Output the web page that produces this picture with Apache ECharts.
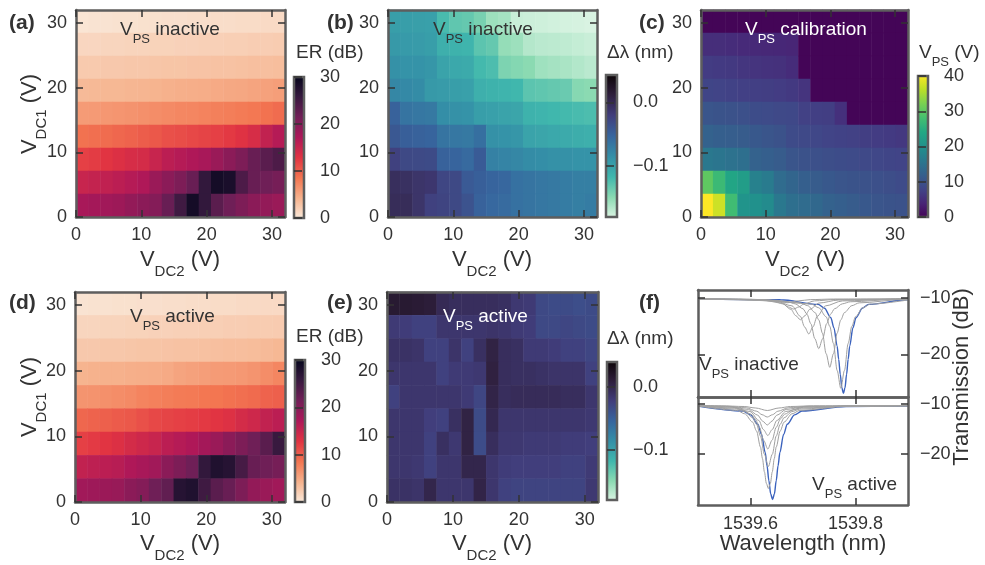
<!DOCTYPE html>
<html>
<head>
<meta charset="utf-8">
<script src="https://cdn.jsdelivr.net/npm/echarts@6/dist/echarts.min.js"></script>
<style>
  html, body { margin: 0; padding: 0; background: #fff; }
  #main { width: 985px; height: 565px; }
</style>
</head>
<body>
<div id="main"></div>
<script>
var myChart = echarts.init(document.getElementById("main"));

// cell centres (V)
var VDC2_CELLS = ['0.9','2.8','4.7','6.6','8.5','10.4','12.2','14.1','16.0','17.9','19.8','21.6','23.5','25.4','27.3','29.2','31.1'];
var VDC1_CELLS = ['1.8','5.3','8.9','12.4','16.0','19.6','23.1','26.7','30.2'];
var HEAT_TICKS = [0, 10, 20, 30];

// (a) ER, VPS inactive  (rows top -> bottom)
var ER_INACTIVE = [
  [0.5,0.6,0.6,0.7,0.7,0.8,0.8,0.9,0.9,1.0,1.0,1.1,1.1,1.2,1.2,1.3,1.3],
  [1.6,1.6,1.7,1.7,1.8,1.8,1.9,1.9,2.0,2.0,2.1,2.1,2.2,2.2,2.3,2.3,2.4],
  [2.6,2.6,2.7,2.7,2.8,2.8,2.9,3.0,3.0,3.1,3.1,3.2,3.2,3.3,3.4,3.4,3.5],
  [3.8,3.9,4.0,4.0,4.1,4.2,4.3,4.5,4.6,4.7,4.8,5.0,5.1,5.2,5.4,5.6,5.8],
  [6.0,6.1,6.3,6.4,6.6,6.8,7.0,7.2,7.4,7.5,7.7,7.9,8.0,8.2,8.4,8.8,9.2],
  [8.8,9.0,9.2,9.5,9.8,10.2,10.5,11.0,11.2,11.5,11.8,12.0,12.5,13.0,13.8,15.5,16.5],
  [12.0,12.3,12.8,13.3,13.8,14.0,15.0,16.0,16.5,17.0,17.5,18.5,19.5,20.5,22.0,23.0,24.0],
  [15.0,15.3,15.6,16.0,16.5,17.0,18.5,19.5,20.5,22.0,26.0,28.5,28.0,24.0,22.0,21.5,21.0],
  [17.5,17.8,18.0,18.3,19.0,19.5,20.0,22.0,25.0,28.5,26.0,23.0,21.5,20.5,19.5,19.0,18.5]
];
// (d) ER, VPS active
var ER_ACTIVE = [
  [0.6,0.7,0.7,0.8,0.8,0.9,0.9,1.0,1.0,1.1,1.1,1.2,1.2,1.3,1.3,1.4,1.4],
  [1.7,1.7,1.8,1.8,1.9,1.9,2.0,2.0,2.1,2.1,2.2,2.2,2.3,2.3,2.4,2.4,2.5],
  [2.7,2.7,2.8,2.8,2.9,3.0,3.0,3.1,3.2,3.2,3.3,3.4,3.5,3.5,3.6,3.8,4.0],
  [4.3,4.4,4.5,4.5,4.6,4.7,4.8,5.0,5.4,5.6,5.8,6.0,6.1,6.2,6.5,7.0,7.5],
  [6.5,6.6,6.8,7.0,7.2,7.6,7.8,8.0,8.2,8.3,8.5,8.6,8.8,9.0,9.3,9.8,10.0],
  [9.5,9.8,10.0,10.3,10.5,11.0,11.5,11.8,12.0,12.2,12.5,12.8,13.2,14.0,14.5,15.5,16.0],
  [12.0,12.4,12.8,13.3,14.0,14.5,15.0,16.0,16.5,17.0,17.8,18.5,19.5,20.5,21.5,23.0,25.5],
  [15.5,15.8,16.0,16.3,17.0,17.5,18.0,19.5,20.5,21.5,26.0,27.5,27.0,24.5,22.0,21.5,21.0],
  [18.0,18.2,18.4,18.6,19.5,20.0,21.5,22.5,27.0,27.5,25.0,23.0,22.0,20.5,19.0,18.5,18.0]
];
// (b) delta lambda (nm), VPS inactive
var DL_INACTIVE = [
  [-0.096,-0.096,-0.097,-0.098,-0.120,-0.130,-0.132,-0.140,-0.155,-0.158,-0.172,-0.173,-0.174,-0.175,-0.176,-0.177,-0.178],
  [-0.092,-0.093,-0.094,-0.096,-0.110,-0.112,-0.114,-0.128,-0.132,-0.152,-0.155,-0.164,-0.166,-0.167,-0.168,-0.170,-0.172],
  [-0.086,-0.088,-0.088,-0.090,-0.100,-0.104,-0.106,-0.118,-0.122,-0.142,-0.145,-0.148,-0.156,-0.158,-0.160,-0.163,-0.166],
  [-0.078,-0.080,-0.082,-0.092,-0.094,-0.096,-0.098,-0.110,-0.112,-0.114,-0.116,-0.128,-0.130,-0.132,-0.134,-0.146,-0.148],
  [-0.050,-0.064,-0.066,-0.068,-0.084,-0.086,-0.088,-0.096,-0.098,-0.100,-0.102,-0.112,-0.114,-0.116,-0.118,-0.120,-0.122],
  [-0.042,-0.048,-0.050,-0.052,-0.064,-0.066,-0.068,-0.060,-0.086,-0.088,-0.090,-0.100,-0.102,-0.104,-0.106,-0.108,-0.110],
  [-0.024,-0.030,-0.031,-0.032,-0.050,-0.052,-0.056,-0.045,-0.074,-0.076,-0.078,-0.082,-0.084,-0.086,-0.086,-0.088,-0.088],
  [-0.006,-0.008,-0.012,-0.014,-0.028,-0.030,-0.044,-0.048,-0.052,-0.054,-0.062,-0.064,-0.066,-0.068,-0.070,-0.072,-0.072],
  [-0.004,-0.004,-0.012,-0.024,-0.026,-0.030,-0.038,-0.050,-0.055,-0.057,-0.062,-0.064,-0.066,-0.068,-0.070,-0.072,-0.070]
];
// (e) delta lambda (nm), VPS active
var DL_ACTIVE = [
  [0.014,0.014,0.012,0.010,-0.004,-0.008,-0.008,-0.008,-0.008,-0.010,-0.018,-0.020,-0.032,-0.034,-0.034,-0.036,-0.034],
  [-0.020,-0.022,-0.026,-0.026,-0.016,-0.016,-0.016,-0.016,-0.014,-0.016,-0.020,-0.022,-0.032,-0.032,-0.030,-0.032,-0.034],
  [-0.012,-0.012,-0.014,-0.026,-0.026,-0.014,-0.026,-0.010,0.004,-0.008,-0.010,-0.020,-0.020,-0.022,-0.026,-0.026,-0.030],
  [-0.016,-0.016,-0.016,-0.016,-0.026,-0.020,-0.020,-0.018,0.006,-0.008,-0.010,-0.010,-0.012,-0.014,-0.014,-0.014,-0.026],
  [-0.026,-0.016,-0.016,-0.016,-0.016,-0.016,-0.020,-0.030,0.002,-0.008,-0.006,-0.006,-0.006,-0.006,-0.008,-0.008,-0.016],
  [-0.016,-0.016,-0.016,-0.024,-0.026,-0.010,0.004,-0.034,-0.002,-0.016,-0.016,-0.016,-0.016,-0.016,-0.016,-0.016,-0.018],
  [-0.016,-0.016,-0.016,-0.026,-0.010,-0.018,0.004,-0.035,-0.008,-0.018,-0.018,-0.020,-0.020,-0.020,-0.022,-0.022,-0.024],
  [-0.016,-0.016,-0.018,-0.026,-0.016,-0.016,0.000,0.000,-0.016,-0.022,-0.024,-0.024,-0.024,-0.024,-0.026,-0.026,-0.020],
  [-0.012,-0.012,-0.014,0.000,-0.016,-0.016,-0.016,0.002,-0.016,-0.026,-0.028,-0.028,-0.028,-0.028,-0.028,-0.028,-0.018]
];
// (c) VPS calibration (V)
var VPS_CAL = [
  [0.4,0.4,0.4,0.4,0.4,0.4,0.4,0.4,0.4,0.4,0.4,0.4,0.4,0.4,0.4,0.4,0.4],
  [5.2,5.2,5.0,4.8,4.6,4.5,4.4,4.2,0.4,0.4,0.4,0.4,0.4,0.4,0.4,0.4,0.4],
  [7.0,6.8,6.6,6.2,6.0,5.8,5.6,5.0,0.4,0.4,0.4,0.4,0.4,0.4,0.4,0.4,0.4],
  [8.2,8.0,7.8,7.5,7.4,7.2,7.0,6.6,6.0,0.4,0.4,0.4,0.4,0.4,0.4,0.4,0.4],
  [10.5,10.2,10.0,9.8,9.2,9.0,8.8,8.6,7.6,7.4,7.2,5.5,0.4,0.4,0.4,0.4,0.4],
  [12.5,12.0,11.8,11.5,11.0,10.5,10.0,9.0,8.8,8.5,8.0,7.8,7.6,7.2,7.0,6.8,6.5],
  [16.0,15.5,15.0,14.5,12.5,12.0,11.5,10.5,10.0,9.8,9.5,9.2,9.0,8.8,8.5,8.2,8.0],
  [30.0,27.0,23.5,22.0,17.5,16.5,14.0,13.0,12.0,11.5,11.0,10.5,10.2,10.0,9.8,9.5,9.0],
  [40.0,37.0,27.5,20.5,20.0,19.0,16.0,14.5,14.0,13.5,12.5,12.0,11.5,11.0,10.5,10.2,10.0]
];

// (f) transmission spectra [wavelength nm, dB]
var INACT_1 = [[1539.5,-10.2],[1539.582,-10.24],[1539.626,-10.34],[1539.648,-10.55],[1539.670,-10.9],[1539.692,-10.55],[1539.714,-10.34],[1539.758,-10.24],[1539.9,-10.2]];
var INACT_2 = [[1539.5,-10.2],[1539.602,-10.31],[1539.642,-10.56],[1539.662,-11.1],[1539.672,-11.64],[1539.682,-12.0],[1539.692,-11.64],[1539.702,-11.1],[1539.722,-10.56],[1539.762,-10.31],[1539.9,-10.2]];
var INACT_3 = [[1539.5,-10.22],[1539.623,-10.42],[1539.659,-10.94],[1539.677,-12.05],[1539.686,-13.16],[1539.695,-13.9],[1539.704,-13.16],[1539.713,-12.05],[1539.731,-10.94],[1539.767,-10.42],[1539.9,-10.21]];
var INACT_4 = [[1539.5,-10.22],[1539.551,-10.26],[1539.647,-10.57],[1539.679,-11.44],[1539.695,-13.3],[1539.703,-15.16],[1539.711,-16.4],[1539.719,-15.16],[1539.727,-13.3],[1539.743,-11.44],[1539.775,-10.57],[1539.871,-10.26],[1539.9,-10.22]];
var INACT_5 = [[1539.5,-10.23],[1539.58,-10.29],[1539.67,-10.72],[1539.685,-11.08],[1539.7,-11.96],[1539.7075,-12.91],[1539.715,-14.6],[1539.7225,-17.24],[1539.73,-19.0],[1539.7375,-17.24],[1539.745,-14.6],[1539.7525,-12.91],[1539.76,-11.96],[1539.775,-11.08],[1539.79,-10.72],[1539.88,-10.29],[1539.9,-10.27]];
var INACT_6 = [[1539.5,-10.24],[1539.611,-10.32],[1539.695,-10.91],[1539.709,-11.41],[1539.723,-12.62],[1539.73,-13.92],[1539.737,-16.25],[1539.744,-19.88],[1539.751,-22.3],[1539.758,-19.88],[1539.765,-16.25],[1539.772,-13.92],[1539.779,-12.62],[1539.793,-11.41],[1539.807,-10.91],[1539.891,-10.32],[1539.9,-10.31]];
var INACT_7 = [[1539.5,-10.25],[1539.632,-10.36],[1539.716,-11.13],[1539.73,-11.78],[1539.744,-13.36],[1539.751,-15.06],[1539.758,-18.1],[1539.765,-22.84],[1539.772,-26.0],[1539.779,-22.84],[1539.786,-18.1],[1539.793,-15.06],[1539.8,-13.36],[1539.814,-11.78],[1539.828,-11.13],[1539.9,-10.4]];
var INACT_BLUE = [[1539.5,-10.25],[1539.657,-10.37],[1539.729,-11.18],[1539.741,-11.87],[1539.753,-13.54],[1539.759,-15.34],[1539.765,-18.55],[1539.768,-20.9],[1539.771,-23.56],[1539.774,-25.9],[1539.777,-26.9],[1539.78,-25.9],[1539.783,-23.56],[1539.786,-20.9],[1539.789,-18.55],[1539.795,-15.34],[1539.801,-13.54],[1539.813,-11.87],[1539.825,-11.18],[1539.897,-10.37],[1539.9,-10.36]];

var ACT_1 = [[1539.5,-10.3],[1539.544,-10.36],[1539.588,-10.5],[1539.61,-10.8],[1539.632,-11.3],[1539.654,-10.8],[1539.676,-10.5],[1539.72,-10.36],[1539.9,-10.3]];
var ACT_2 = [[1539.5,-10.3],[1539.552,-10.44],[1539.592,-10.76],[1539.612,-11.45],[1539.622,-12.14],[1539.632,-12.6],[1539.642,-12.14],[1539.652,-11.45],[1539.672,-10.76],[1539.712,-10.44],[1539.9,-10.3]];
var ACT_3 = [[1539.5,-10.31],[1539.56,-10.53],[1539.596,-11.08],[1539.614,-12.25],[1539.623,-13.42],[1539.632,-14.2],[1539.641,-13.42],[1539.65,-12.25],[1539.668,-11.08],[1539.704,-10.53],[1539.9,-10.32]];
var ACT_4 = [[1539.5,-10.33],[1539.565,-10.65],[1539.599,-11.5],[1539.616,-13.3],[1539.6245,-15.1],[1539.633,-16.3],[1539.6415,-15.1],[1539.65,-13.3],[1539.667,-11.5],[1539.701,-10.65],[1539.803,-10.36],[1539.9,-10.33]];
var ACT_5 = [[1539.5,-10.34],[1539.569,-10.81],[1539.585,-11.17],[1539.601,-12.04],[1539.609,-12.98],[1539.617,-14.65],[1539.625,-17.26],[1539.633,-19.0],[1539.641,-17.26],[1539.649,-14.65],[1539.657,-12.98],[1539.665,-12.04],[1539.681,-11.17],[1539.697,-10.81],[1539.793,-10.39],[1539.9,-10.34]];
var ACT_6 = [[1539.5,-10.36],[1539.574,-11.02],[1539.589,-11.52],[1539.604,-12.74],[1539.6115,-14.05],[1539.619,-16.4],[1539.6265,-20.06],[1539.634,-22.5],[1539.6415,-20.06],[1539.649,-16.4],[1539.6565,-14.05],[1539.664,-12.74],[1539.679,-11.52],[1539.694,-11.02],[1539.784,-10.42],[1539.9,-10.36]];
var ACT_7 = [[1539.5,-10.38],[1539.574,-11.28],[1539.589,-11.96],[1539.604,-13.62],[1539.6115,-15.41],[1539.619,-18.6],[1539.6228,-20.92],[1539.6265,-23.58],[1539.6303,-25.9],[1539.634,-26.9],[1539.6378,-25.9],[1539.6415,-23.58],[1539.6453,-20.92],[1539.649,-18.6],[1539.6565,-15.41],[1539.664,-13.62],[1539.679,-11.96],[1539.694,-11.28],[1539.784,-10.46],[1539.9,-10.38]];
var ACT_BLUE = [[1539.5,-10.4],[1539.586,-11.4],[1539.6,-12.18],[1539.614,-14.06],[1539.621,-16.08],[1539.628,-19.7],[1539.6315,-22.33],[1539.635,-25.34],[1539.6385,-28.0],[1539.642,-29.1],[1539.6455,-28.0],[1539.649,-25.34],[1539.6525,-22.33],[1539.656,-19.7],[1539.663,-16.08],[1539.67,-14.06],[1539.684,-12.18],[1539.698,-11.4],[1539.782,-10.49],[1539.9,-10.42]];
var WL_TICKS = [1539.6, 1539.8];
var DB_TICKS = [-10, -20];

// colormaps, low -> high
var ROCKET_R = ['#faebdd','#f6b48f','#f37651','#e13342','#ad1759','#701f57','#35193e','#03051a'];
var MAKO_R = ['#def5e5','#8bdab2','#40b7ad','#348fa7','#37659e','#413d7b','#2e1e3b','#0b0405'];
var VIRIDIS = ['#440154','#482475','#414487','#355f8d','#2a788e','#21918c','#22a884','#44bf70','#7ad151','#bddf26','#fde725'];

var FONT = '"Liberation Sans", Arial, Helvetica, sans-serif';
var TXT = '#333';
var FRAME = '#5e5e5e';

var grids = [], xAxes = [], yAxes = [], series = [], visualMaps = [], graphics = [];

function frameAxis(gi, pos, labels, min, max, ticks, fmt, margin) {
	return {
		gridIndex: gi, type: 'value', position: pos, min: min, max: max, z: 10,
		axisLine: {show: true, onZero: false, lineStyle: {color: FRAME, width: 2.5}},
		axisTick: {show: true, inside: true, length: 7, customValues: ticks, lineStyle: {color: TXT, width: 1.5}},
		axisLabel: {show: labels, customValues: ticks, margin: margin || 9, color: TXT, fontSize: 18, fontFamily: FONT, formatter: fmt},
		splitLine: {show: false}
	};
}

function minusFmt(d) {
	return function(v) { return (v < 0 ? '\u2212' : '') + Math.abs(v).toFixed(d); };
}

function heatPanel(g, matrix, cmap, vmin, vmax) {
	var gi = grids.length;
	grids.push({left: g.left, top: g.top, width: g.width, height: g.height, show: false});
	var xi = xAxes.length, yi = yAxes.length;
	xAxes.push({gridIndex: gi, type: 'category', data: VDC2_CELLS, show: false});
	yAxes.push({gridIndex: gi, type: 'category', data: VDC1_CELLS, show: false});
	xAxes.push(frameAxis(gi, 'bottom', true, 0, 32, HEAT_TICKS, minusFmt(0)));
	xAxes.push(frameAxis(gi, 'top', false, 0, 32, HEAT_TICKS, minusFmt(0)));
	yAxes.push(frameAxis(gi, 'left', true, 0, 32, HEAT_TICKS, minusFmt(0)));
	yAxes.push(frameAxis(gi, 'right', false, 0, 32, HEAT_TICKS, minusFmt(0)));
	var data = [];
	for (var r = 0; r < matrix.length; r++) {
		for (var c = 0; c < matrix[r].length; c++) {
			data.push([c, matrix.length - 1 - r, matrix[r][c]]);
		}
	}
	series.push({type: 'heatmap', xAxisIndex: xi, yAxisIndex: yi, data: data, silent: true,
		itemStyle: {borderWidth: 0}, emphasis: {disabled: true}});
	visualMaps.push({type: 'continuous', show: false, seriesIndex: series.length - 1, dimension: 2,
		min: vmin, max: vmax, inRange: {color: cmap}});
}

function colorbar(g, cmap, vmin, vmax, ticks, fmt) {
	var gi = grids.length;
	var stops = [];
	for (var i = cmap.length - 1; i >= 0; i--) {
		stops.push({offset: 1 - i / (cmap.length - 1), color: cmap[i]});
	}
	grids.push({left: g.left, top: g.top, width: g.width, height: g.height, show: true,
		borderColor: FRAME, borderWidth: 2.5,
		backgroundColor: {type: 'linear', x: 0, y: 0, x2: 0, y2: 1, colorStops: stops}});
	xAxes.push({gridIndex: gi, type: 'value', show: false, min: 0, max: 1});
	yAxes.push({gridIndex: gi, type: 'value', position: 'right', min: vmin, max: vmax,
		axisLine: {show: false},
		axisTick: {show: true, inside: false, length: 8, customValues: ticks, lineStyle: {color: TXT, width: 1.5}},
		axisLabel: {customValues: ticks, margin: 16, color: TXT, fontSize: 18, fontFamily: FONT, formatter: fmt},
		splitLine: {show: false}});
}

function spectraPanel(g, grays, blue, ymin, ymax, showX) {
	var gi = grids.length;
	grids.push({left: g.left, top: g.top, width: g.width, height: g.height, show: false});
	var xi = xAxes.length, yi = yAxes.length;
	xAxes.push(frameAxis(gi, 'bottom', showX, 1539.5, 1539.9, WL_TICKS, minusFmt(1), 10));
	xAxes.push(frameAxis(gi, 'top', false, 1539.5, 1539.9, WL_TICKS, minusFmt(1)));
	yAxes.push(frameAxis(gi, 'right', true, ymin, ymax, DB_TICKS, minusFmt(0), 12));
	yAxes.push(frameAxis(gi, 'left', false, ymin, ymax, DB_TICKS, minusFmt(0)));
	// blue underneath, grey sweep on top
	series.push({type: 'line', xAxisIndex: xi, yAxisIndex: yi, data: blue, showSymbol: false, silent: true,
		smooth: 0.3, smoothMonotone: 'x', lineStyle: {color: '#3b62bd', width: 1.4}, z: 2});
	grays.forEach(function(d) {
		series.push({type: 'line', xAxisIndex: xi, yAxisIndex: yi, data: d, showSymbol: false, silent: true,
			smooth: 0.3, smoothMonotone: 'x', lineStyle: {color: '#a0a0a0', width: 1}, z: 3});
	});
}

// text helpers: m = main, s = subscript
function rich(size, weight) {
	return {
		m: {fontSize: size, fontFamily: FONT, fontWeight: weight, lineHeight: Math.round(size * 1.38), verticalAlign: 'top'},
		s: {fontSize: Math.round(size * 0.7), fontFamily: FONT, fontWeight: weight, lineHeight: Math.round(size * 0.7), verticalAlign: 'bottom'}
	};
}
function text(x, y, str, size, opts) {
	opts = opts || {};
	var w = opts.bold ? 'bold' : 'normal';
	graphics.push({type: 'text', x: x, y: y, rotation: opts.rot || 0, z: 100, silent: true,
		style: {text: str, rich: rich(size, w), fill: opts.color || TXT, align: opts.align || 'left',
			verticalAlign: 'middle', fontSize: size, fontFamily: FONT, fontWeight: w}});
}

// heatmaps
heatPanel({left: 76, top: 10, width: 209, height: 207}, ER_INACTIVE, ROCKET_R, 0, 30);
heatPanel({left: 388, top: 10, width: 209, height: 207}, DL_INACTIVE, MAKO_R, -0.18, 0.043);
heatPanel({left: 701, top: 10, width: 207, height: 207}, VPS_CAL, VIRIDIS, 0, 40);
heatPanel({left: 75, top: 292, width: 210, height: 210}, ER_ACTIVE, ROCKET_R, 0, 30);
heatPanel({left: 387, top: 292, width: 211, height: 210}, DL_ACTIVE, MAKO_R, -0.18, 0.04);

// colour bars
colorbar({left: 294, top: 77, width: 10, height: 141}, ROCKET_R, 0, 30, [0, 10, 20, 30], minusFmt(0));
colorbar({left: 606, top: 75, width: 11, height: 142}, MAKO_R, -0.18, 0.043, [-0.1, 0], minusFmt(1));
colorbar({left: 918, top: 76, width: 10, height: 141}, VIRIDIS, 0, 40, [0, 10, 20, 30, 40], minusFmt(0));
colorbar({left: 295, top: 360, width: 10, height: 142}, ROCKET_R, 0, 30, [0, 10, 20, 30], minusFmt(0));
colorbar({left: 607, top: 362, width: 10, height: 138}, MAKO_R, -0.18, 0.04, [-0.1, 0], minusFmt(1));

// (f)
spectraPanel({left: 698, top: 290, width: 210, height: 107},
	[INACT_1, INACT_2, INACT_3, INACT_4, INACT_5, INACT_6, INACT_7], INACT_BLUE, -27.54, -8.64, false);
spectraPanel({left: 698, top: 397, width: 210, height: 108},
	[ACT_1, ACT_2, ACT_3, ACT_4, ACT_5, ACT_6, ACT_7], ACT_BLUE, -30.2, -8.6, true);

// panel letters
text(9, 27, '{m|(a)}', 21, {bold: true});
text(327, 27, '{m|(b)}', 21, {bold: true});
text(639, 27, '{m|(c)}', 21, {bold: true});
text(9, 307, '{m|(d)}', 21, {bold: true});
text(327, 307, '{m|(e)}', 21, {bold: true});
text(639, 307, '{m|(f)}', 21, {bold: true});

// in-plot labels
text(120, 33, '{m|V}{s|PS}{m| inactive}', 19);
text(433, 33, '{m|V}{s|PS}{m| inactive}', 19);
text(745, 33, '{m|V}{s|PS}{m| calibration}', 19, {color: '#fff'});
text(130, 320, '{m|V}{s|PS}{m| active}', 19);
text(443, 320, '{m|V}{s|PS}{m| active}', 19, {color: '#fff'});
text(699, 368, '{m|V}{s|PS}{m| inactive}', 19);
text(897, 488, '{m|V}{s|PS}{m| active}', 19, {align: 'right'});

// colour bar titles
text(296, 56, '{m|ER (dB)}', 19);
text(607, 56, '{m|\u0394\u03bb (nm)}', 19);
text(919, 56, '{m|V}{s|PS}{m| (V)}', 19);
text(296, 340, '{m|ER (dB)}', 19);
text(607, 342, '{m|\u0394\u03bb (nm)}', 19);

// axis titles
text(180, 264, '{m|V}{s|DC2}{m| (V)}', 22, {align: 'center'});
text(492, 264, '{m|V}{s|DC2}{m| (V)}', 22, {align: 'center'});
text(805, 264, '{m|V}{s|DC2}{m| (V)}', 22, {align: 'center'});
text(180, 548, '{m|V}{s|DC2}{m| (V)}', 22, {align: 'center'});
text(492, 548, '{m|V}{s|DC2}{m| (V)}', 22, {align: 'center'});
text(803, 548, '{m|Wavelength (nm)}', 22, {align: 'center'});
text(34, 114, '{m|V}{s|DC1}{m| (V)}', 22, {align: 'center', rot: Math.PI / 2});
text(34, 397, '{m|V}{s|DC1}{m| (V)}', 22, {align: 'center', rot: Math.PI / 2});
text(966, 377, '{m|Transmission (dB)}', 22, {align: 'center', rot: Math.PI / 2});

option = {
	backgroundColor: '#fff',
	animation: false,
	textStyle: {fontFamily: FONT},
	grid: grids,
	xAxis: xAxes,
	yAxis: yAxes,
	visualMap: visualMaps,
	series: series,
	graphic: graphics
};

myChart.setOption(option);
</script>
</body>
</html>
